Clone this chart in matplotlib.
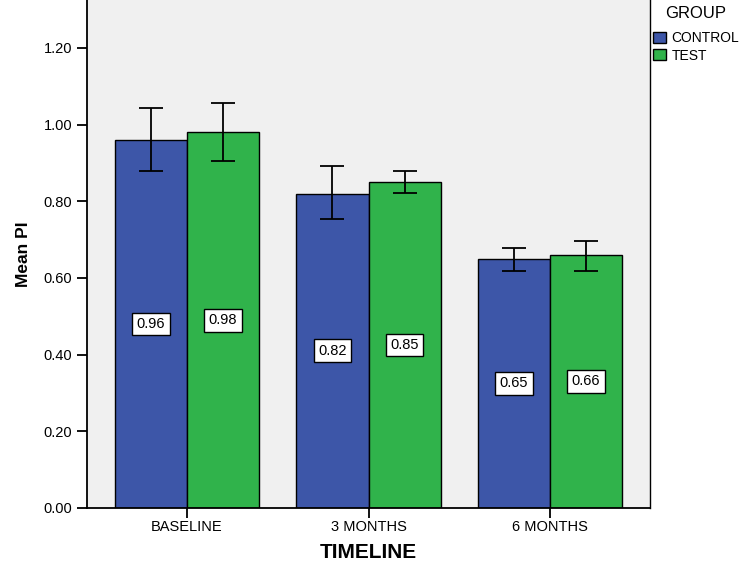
import numpy as np
import matplotlib.pyplot as plt
from matplotlib.ticker import FormatStrFormatter

plt.rcParams['font.family'] = ['Liberation Sans', 'DejaVu Sans']

# data
timeline = ['BASELINE', '3 MONTHS', '6 MONTHS']
groups = ['CONTROL', 'TEST']
control_mean = [0.96, 0.82, 0.65]
test_mean = [0.98, 0.85, 0.66]
control_lo = [0.880, 0.754, 0.618]
control_hi = [1.044, 0.892, 0.679]
test_lo = [0.905, 0.822, 0.619]
test_hi = [1.057, 0.878, 0.697]

blue = '#3d56a8'
green = '#30b34b'

fig = plt.figure(figsize=(7.5, 5.77), dpi=100)
ax = fig.add_axes([0.116, 0.1196, 0.7507, 0.8804])
ax.set_facecolor('#f0f0f0')

x = np.arange(len(timeline))
w = 0.397

means = [control_mean, test_mean]
lows = [control_lo, test_lo]
highs = [control_hi, test_hi]
colors = [blue, green]
offsets = [-w / 2, w / 2]

handles = []
for i in range(2):
    m = np.array(means[i])
    lo = np.array(lows[i])
    hi = np.array(highs[i])
    b = ax.bar(x + offsets[i], m, width=w, color=colors[i], edgecolor='black',
               linewidth=1.0, label=groups[i], zorder=2)
    handles.append(b)
    ax.errorbar(x + offsets[i], m, yerr=[m - lo, hi - m], fmt='none',
                ecolor='black', elinewidth=1.3, capsize=8.5, capthick=1.3, zorder=3)
    for xi, mi in zip(x + offsets[i], m):
        ax.text(xi, mi / 2, '%.2f' % mi, ha='center', va='center', fontsize=10.5,
                zorder=4,
                bbox=dict(boxstyle='square,pad=0.3', facecolor='white',
                          edgecolor='black', linewidth=1.0))

ax.set_xlim(-0.551, 2.551)
ax.set_ylim(0, 1.325)
ax.set_yticks(np.arange(0, 1.21, 0.2))
ax.yaxis.set_major_formatter(FormatStrFormatter('%.2f'))
ax.set_xticks(x)
ax.set_xticklabels(timeline)
ax.tick_params(axis='both', labelsize=10.5, length=7, width=1.3, direction='out',
               colors='black')
ax.tick_params(axis='x', pad=2)

ax.spines['top'].set_visible(False)
ax.spines['left'].set_linewidth(1.3)
ax.spines['bottom'].set_linewidth(1.3)
ax.spines['right'].set_linewidth(1.0)

ax.set_ylabel('Mean PI', fontsize=12.5, fontweight='bold', labelpad=9)
ax.set_xlabel('TIMELINE', fontsize=15, fontweight='bold', labelpad=6)

# legend outside the plot area, title placed on its own like SPSS does
fig.text(0.887, 0.977, 'GROUP', fontsize=12, ha='left', va='center')
fig.legend(handles=handles, labels=groups,
           loc='upper left', bbox_to_anchor=(0.871, 0.946),
           frameon=False, fontsize=10, borderpad=0, borderaxespad=0,
           handlelength=0.95, handleheight=0.85, handletextpad=0.35,
           labelspacing=0.25)

fig.savefig('out.png', dpi=100, facecolor='white')
